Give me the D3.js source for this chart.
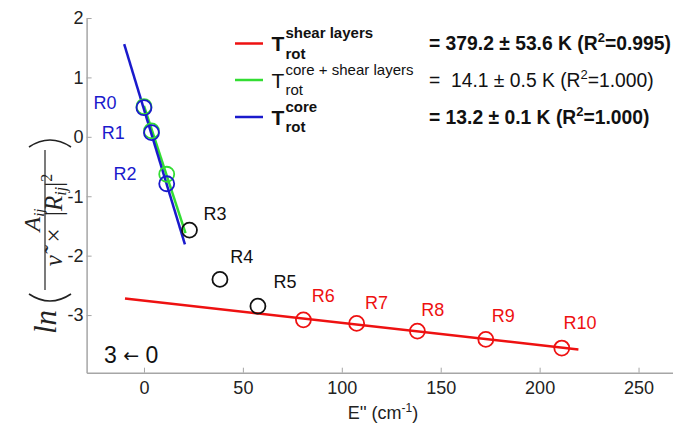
<!DOCTYPE html>
<html><head><meta charset="utf-8">
<script src="https://cdn.jsdelivr.net/npm/d3@7"></script>
<style>
body{margin:0;background:#fff;}
svg{display:block;font-family:"Liberation Sans",Arial,Helvetica,sans-serif;}
text{white-space:pre;}
</style></head>
<body><svg id="c" width="673" height="423"></svg>
<script>
// ---- data ----
const levels = ["R0","R1","R2","R3","R4","R5","R6","R7","R8","R9","R10"];
const energy = [0, 3.8, 11.5, 23.0, 38.4, 57.6, 80.6, 107.5, 138.2, 172.8, 211.2];
const lnCore = [0.49, 0.07, -0.79];            // blue (R0-R2)
const lnCoreShear = [0.51, 0.10, -0.63];       // green (R0-R2)
const lnOther = [-1.57, -2.40, -2.85];         // black (R3-R5)
const lnShear = [-3.08, -3.14, -3.27, -3.41, -3.555]; // red (R6-R10)
const labelE  = [-19.7, -15.5, -9.6, 35.9, 49.4, 71.3, 90.6, 117.6, 146, 181.6, 220.4];
const labelLn = [0.46, -0.04, -0.73, -1.40, -2.12, -2.55, -2.78, -2.89, -3.02, -3.11, -3.23];
const fitShear = [[-9.6, -2.72], [219.6, -3.58]];
const fitCoreShear = [[0, 0.52], [21, -1.62]];
const fitCore = [[-10, 1.56], [20.7, -1.81]];
const xTicks = [0, 50, 100, 150, 200, 250];
const yTicks = [-3, -2, -1, 0, 1, 2];
const legendNames = ["shear layers", "core + shear layers", "core"];
const legendValues = [["= 379.2 \u00b1 53.6 K (R","=0.995)"], ["=  14.1 \u00b1 0.5 K (R","=1.000)"], ["= 13.2 \u00b1 0.1 K (R","=1.000)"]];

const RED = "#ee1111", GREEN = "#33dd33", BLUE = "#1a1acc", AX = "#a6a6a6", TXT = "#222";

const svg = d3.select("#c");
const x = d3.scaleLinear().domain([-29, 275]).range([86.6, 688]);
const y = d3.scaleLinear().domain([-3.97, 2]).range([372.7, 18]);

// axes
const gx = svg.append("g").attr("transform", `translate(0,${y(-3.97)})`)
  .call(d3.axisBottom(x).tickValues(xTicks).tickFormat(d => String(d)).tickSizeInner(-5).tickSizeOuter(0).tickPadding(8.5));
const gy = svg.append("g").attr("transform", `translate(${x(-29)},0)`)
  .call(d3.axisLeft(y).tickValues(yTicks).tickFormat(d => String(d)).tickSizeInner(-5).tickSizeOuter(0).tickPadding(3));
[gx, gy].forEach(g => {
  g.select(".domain").attr("stroke", AX).attr("stroke-width", 1.5);
  g.selectAll(".tick line").attr("stroke", AX).attr("stroke-width", 1);
  g.selectAll(".tick text").attr("fill", TXT).style("font-size", "18px").style("font-family", "'Liberation Sans',Arial,sans-serif");
});

// x-axis title
const xt = svg.append("text").attr("x", 383).attr("y", 419).attr("text-anchor", "middle")
  .attr("fill", TXT).style("font-size", "18px");
xt.append("tspan").text("E'' (cm");
xt.append("tspan").attr("dy", -7).style("font-size", "12px").text("-1");
xt.append("tspan").attr("dy", 7).text(")");

// y-axis title (rotated)
const yl = svg.append("g").attr("transform", "translate(45,233) rotate(-90)")
  .style("font-family", "'Liberation Serif','Times New Roman',serif").attr("fill", TXT);
yl.append("text").attr("x", -101).attr("y", 11).style("font-size", "31px").style("font-style", "italic").text("ln");
yl.append("path").attr("d", "M-61,-16 Q-75,5 -61,26").attr("stroke", TXT).attr("stroke-width", 1.6).attr("fill", "none");
yl.append("path").attr("d", "M86,-16 Q100,5 86,26").attr("stroke", TXT).attr("stroke-width", 1.6).attr("fill", "none");
yl.append("line").attr("x1", -57).attr("x2", 83).attr("y1", 0).attr("y2", 0).attr("stroke", TXT).attr("stroke-width", 1.2);
const num = yl.append("text").attr("x", 13).attr("y", -5).attr("text-anchor", "middle").style("font-size", "24px").style("font-style", "italic");
num.append("tspan").text("A");
num.append("tspan").attr("dy", 4).style("font-size", "15px").text("ij");
const den = yl.append("text").attr("x", 13).attr("y", 17).attr("text-anchor", "middle")
  .style("font-size", "25px").style("font-style", "italic");
den.append("tspan").text("\u03bd\u0303");
den.append("tspan").style("font-style", "normal").text("  \u00d7  |");
den.append("tspan").text("R");
den.append("tspan").attr("dy", 4).style("font-size", "16px").text("ij");
den.append("tspan").attr("dy", -4).style("font-style", "normal").text("|");
den.append("tspan").attr("dy", -10).style("font-size", "16px").style("font-style", "normal").text("2");

// fit lines
const line = d3.line().x(d => x(d[0])).y(d => y(d[1]));
svg.append("path").datum(fitShear).attr("d", line).attr("stroke", RED).attr("stroke-width", 2.5).attr("fill", "none");
svg.append("path").datum(fitCoreShear).attr("d", line).attr("stroke", GREEN).attr("stroke-width", 2.5).attr("fill", "none");
svg.append("path").datum(fitCore).attr("d", line).attr("stroke", BLUE).attr("stroke-width", 2.5).attr("fill", "none");

// points
function circles(vals, offset, color) {
  svg.append("g").selectAll("circle").data(vals).join("circle")
    .attr("cx", (d, i) => x(energy[i + offset])).attr("cy", d => y(d)).attr("r", 7.5)
    .attr("fill", "none").attr("stroke", color).attr("stroke-width", 1.8);
}
circles(lnCoreShear, 0, GREEN);
circles(lnCore, 0, BLUE);
circles(lnOther, 3, "#111");
circles(lnShear, 6, RED);

// point labels
svg.append("g").selectAll("text").data(levels).join("text")
  .attr("x", (d, i) => x(labelE[i])).attr("y", (d, i) => y(labelLn[i]))
  .attr("text-anchor", "middle").style("font-size", "18px")
  .attr("fill", (d, i) => i < 3 ? BLUE : i < 6 ? "#111" : RED)
  .text(d => d);

// band label
const bl = svg.append("text").attr("x", 104).attr("y", 363).style("font-size", "23px").attr("fill", "#111");
bl.append("tspan").text("3 ");
bl.append("tspan").style("font-family", "'DejaVu Sans',sans-serif").style("font-size", "19px").attr("dy", -1).text("\u2190");
bl.append("tspan").attr("dy", 1).text(" 0");

// legend
const legColors = [RED, GREEN, BLUE];
const legY = [43.5, 80, 117];
const legBold = [true, false, true];
legendNames.forEach((nm, i) => {
  const cy = legY[i];
  const w = legBold[i] ? "bold" : "normal";
  svg.append("line").attr("x1", 235).attr("x2", 263).attr("y1", cy).attr("y2", cy)
    .attr("stroke", legColors[i]).attr("stroke-width", 2.5);
  svg.append("text").attr("x", 271.5).attr("y", cy + 7.5).style("font-size", "21px").style("font-weight", w).attr("fill", "#111").text("T");
  svg.append("text").attr("x", 285.5).attr("y", cy - 5.5).style("font-size", "15px").style("font-weight", w).attr("fill", "#111").text(nm);
  svg.append("text").attr("x", 285.5).attr("y", cy + 15).style("font-size", "15px").style("font-weight", w).attr("fill", "#111").text("rot");
  const t = svg.append("text").attr("x", 429).attr("y", cy + 6.5).style("font-size", "19.3px").style("font-weight", w).attr("fill", "#111");
  t.append("tspan").text(legendValues[i][0]);
  t.append("tspan").attr("dy", -8).style("font-size", "13px").text("2");
  t.append("tspan").attr("dy", 8).text(legendValues[i][1]);
});
</script></body></html>
